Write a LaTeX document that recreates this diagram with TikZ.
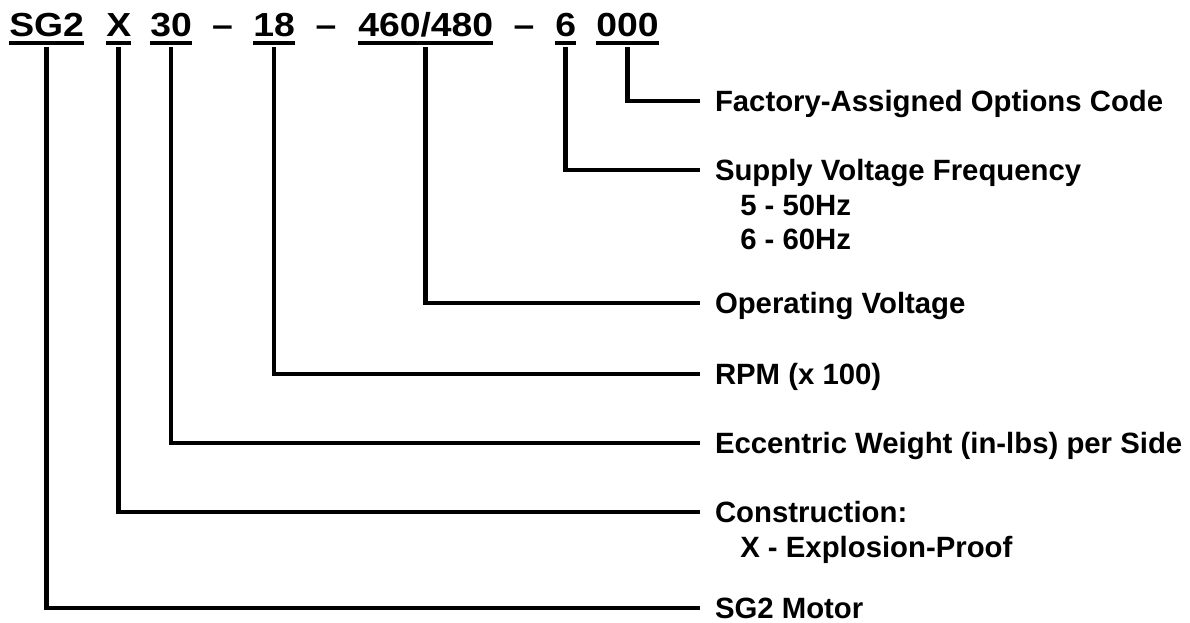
\documentclass[tikz,border=0pt]{standalone}
\usepackage{fontspec}
\setmainfont{Liberation Sans}
\newfontfamily\codefont[FakeStretch=1.12]{Liberation Sans}
\usepackage{tikz}
\usetikzlibrary{positioning, calc}
\definecolor{ink}{RGB}{0,0,0}
\tikzset{
  codepart/.style={font=\codefont\fontsize{25}{30}\selectfont\bfseries, text=ink, inner xsep=0pt,
    inner ysep=7.5pt, text height=17.9pt, text depth=0pt, anchor=base west},
  desc/.style={font=\fontsize{22}{26}\selectfont\bfseries, text=ink, inner sep=0pt,
    outer xsep=11.25pt, outer ysep=0pt, text height=15.75pt, text depth=0pt, anchor=west},
  subdesc/.style={font=\fontsize{22}{26}\selectfont\bfseries, text=ink, inner sep=0pt,
    text height=15.75pt, text depth=0pt},
  lead/.style={line width=3.4pt, color=ink},
  uline/.style={line width=3pt, color=ink}
}
\begin{document}
\begin{tikzpicture}[x=0.75pt, y=-0.75pt]
\useasboundingbox (0,0) rectangle (1190,623);
% model code across the top
\foreach \n/\x/\t in {h1/9/SG2, h2/106/X, h3/150/30, h4/253/18, h5/358/{460/480}, h6/555/6, h7/596/000} {
  \node[codepart] (\n) at (\x,37) {\t};
  \draw[uline] ([yshift=3pt]\n.south west) -- ([yshift=3pt]\n.south east);
}
\foreach \n/\x in {d1/222.5, d2/326, d3/524}
  \node[codepart, anchor=base] (\n) at (\x,37) {–};
% descriptions
\foreach \n/\y/\t in {fac/101/{Factory-Assigned Options Code}, sup/170/{Supply Voltage Frequency},
    opv/303/{Operating Voltage}, rpm/374/{RPM (x 100)}, ecc/443/{Eccentric Weight (in-lbs) per Side},
    con/512/{Construction:}, mot/608/{SG2 Motor}}
  \node[desc] (\n) at (700,\y) {\t};
\node[subdesc, below right=10pt and 30pt of sup.south west] (sup1) {5 - 50Hz};
\node[subdesc, below right=10pt and 0pt of sup1.south west] (sup2) {6 - 60Hz};
\node[subdesc, below right=10pt and 30pt of con.south west] (con1) {X - Explosion-Proof};
% leaders
\foreach \h/\n in {h7/fac, h6/sup, h5/opv, h4/rpm, h3/ecc, h2/con, h1/mot}
  \draw[lead] (\h.south) |- (\n);
\end{tikzpicture}
\end{document}
